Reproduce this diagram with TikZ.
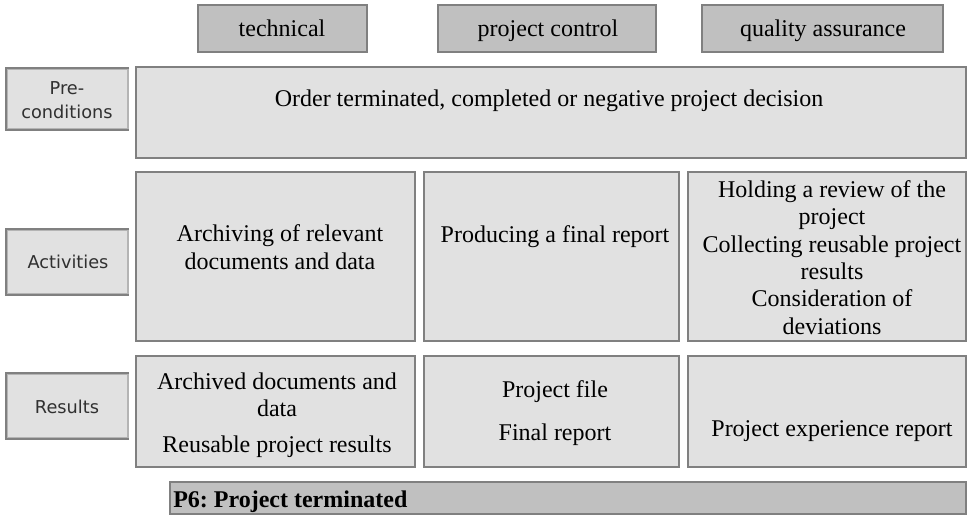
\documentclass[tikz,border=0pt]{standalone}
\usepackage{fontspec}
\setmainfont{Liberation Serif}
\newfontfamily\labelfont{DejaVu Sans}
\usetikzlibrary{fit}
\frenchspacing
\definecolor{bordergray}{HTML}{808080}
\definecolor{lightborder}{HTML}{B4B4B4}
\definecolor{boxgray}{HTML}{E1E1E1}
\definecolor{headgray}{HTML}{C0C0C0}
\definecolor{labeltext}{HTML}{303030}
\begin{document}
\begin{tikzpicture}[x=0.75pt,y=-0.75pt,
  frame/.style={draw=bordergray, line width=1.5pt, inner sep=0pt},
  headbox/.style={frame, fill=headgray},
  cellbox/.style={frame, fill=boxgray},
  labelbox/.style={draw=lightborder, line width=1.5pt, inner sep=0pt, fill=boxgray},
  txt/.style={font=\fontsize{18}{20.5}\selectfont, align=center, inner sep=0pt},
  one/.style={txt, text height=12.3pt, text depth=3.9pt},
  labeltxt/.style={font=\labelfont\fontsize{13.3}{18}\selectfont, text=labeltext, align=center, inner sep=0pt}]
\useasboundingbox (0,0) rectangle (967,515);

% header boxes
\node[headbox, fit={(198,5) (367,52)}] (tech) {};
\node[headbox, fit={(438,5) (656,52)}] (pc) {};
\node[headbox, fit={(702,5) (943,52)}] (qa) {};
\node[one] (techT) at (282,31) {technical};
\node[one] (pcT) at (548,31) {project control};
\node[one] (qaT) at (823,31) {quality assurance};

% row labels
\node[labelbox, fit={(7,69) (128,129)}] (pre) {};
\node[labelbox, fit={(7,230) (128,294)}] (act) {};
\node[labelbox, fit={(7,374) (128,438)}] (res) {};
\foreach \n in {pre,act,res}
  \draw[bordergray, line width=1.5pt] (\n.north east) -- (\n.north west) -- (\n.south west) -- (\n.south east);
\node[labeltxt] (preT) at (67,100) {Pre-\\conditions};
\node[labeltxt] (actT) at (68,262) {Activities};
\node[labeltxt] (resT) at (67,407) {Results};

% preconditions
\node[cellbox, fit={(136,67) (966,158)}] (cond) {};
\node[one] (condT) at (549,101) {Order terminated, completed or negative project decision};

% activities
\node[cellbox, fit={(136,172) (415,341)}] (a1) {};
\node[cellbox, fit={(424,172) (679,341)}] (a2) {};
\node[cellbox, fit={(688,172) (966,341)}] (a3) {};
\node[txt, font=\fontsize{18}{21}\selectfont] (a1T) at (280,247) {Archiving of relevant\\documents and data};
\node[one] (a2T) at (555,237) {Producing a final report};
\node[txt] (a3T) at (832,257.5) {Holding a review of the\\project\\Collecting reusable project\\results\\Consideration of\\deviations};

% results
\node[cellbox, fit={(136,356) (415,467)}] (r1) {};
\node[cellbox, fit={(424,356) (679,467)}] (r2) {};
\node[cellbox, fit={(688,356) (966,467)}] (r3) {};
\node[txt] (r1T) at (277,415) {Archived documents and\\data\\[6.2pt]Reusable project results};
\node[txt, font=\fontsize{18}{32.25}\selectfont] (r2T) at (555,413) {Project file\\Final report};
\node[one] (r3T) at (832,431) {Project experience report};

% milestone bar
\node[headbox, fit={(170,482) (966,514)}] (p6) {};
\node[one, anchor=west, font=\fontsize{18}{18}\selectfont\bfseries] (p6T) at (173,502) {P6: Project terminated};
\end{tikzpicture}
\end{document}
